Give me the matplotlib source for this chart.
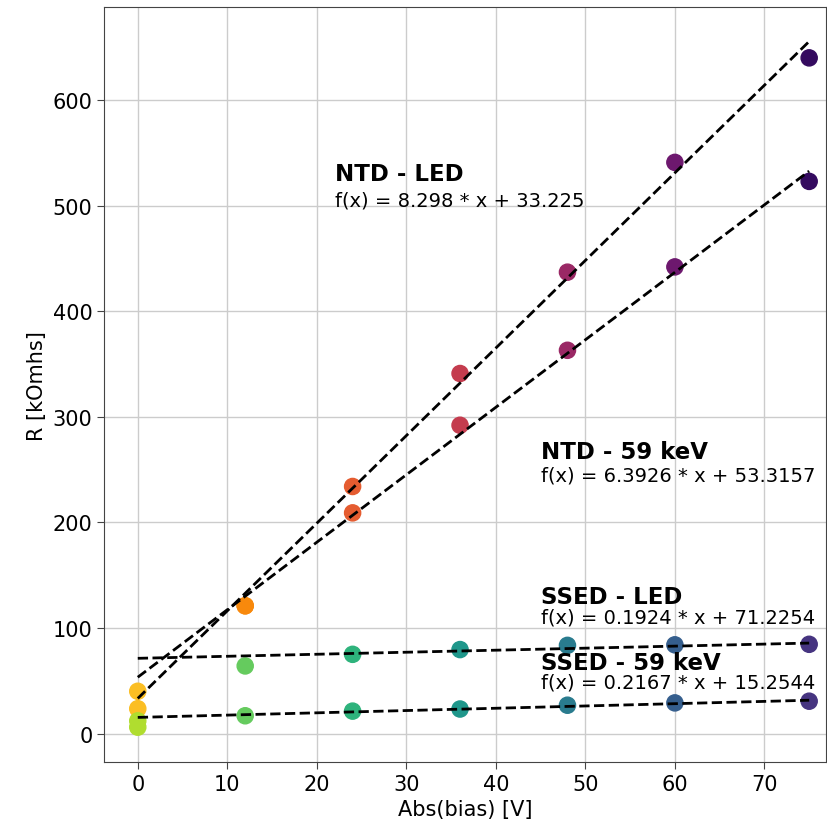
import numpy as np
import matplotlib
matplotlib.use('Agg')
import matplotlib.pyplot as plt

# bias voltages (abs) and measured resistances [kOhms]
bias = np.array([0, 12, 24, 36, 48, 60, 75])
ntd_led = np.array([40, 121, 234, 341, 437, 541, 640])
ntd_59kev = np.array([23.5, 121, 209, 292, 363, 442, 523])
ssed_led = np.array([12, 64, 75, 79.5, 83.5, 84, 84.5])
ssed_59kev = np.array([6, 16.8, 21.2, 23.2, 26.8, 29.0, 30.6])

# fit results shown on the plot
fits = {
    'NTD - LED': (8.298, 33.225, '8.298', '33.225'),
    'NTD - 59 keV': (6.3926, 53.3157, '6.3926', '53.3157'),
    'SSED - LED': (0.1924, 71.2254, '0.1924', '71.2254'),
    'SSED - 59 keV': (0.2167, 15.2544, '0.2167', '15.2544'),
}
label_pos = {
    'NTD - LED': (22, 524, 500),
    'NTD - 59 keV': (45, 261, 240),
    'SSED - LED': (45, 124, 105),
    'SSED - 59 keV': (45, 61, 44),
}

fig = plt.figure(figsize=(8.27, 8.2), dpi=100)
ax = fig.add_axes([0.126, 0.0695, 0.873, 0.9205])

frac = 1 - bias / bias.max()
ntd_colors = plt.cm.inferno(0.17 + 0.68 * frac)
ssed_colors = plt.cm.viridis(0.15 + 0.73 * frac)

xfit = np.linspace(0, 75, 2)
for name in fits:
    a, b, sa, sb = fits[name]
    ax.plot(xfit, a * xfit + b, '--', color='black', lw=2, zorder=3)

ax.scatter(bias, ntd_led, s=135, c=ntd_colors, zorder=2)
ax.scatter(bias, ntd_59kev, s=135, c=ntd_colors, zorder=2)
ax.scatter(bias, ssed_led, s=135, c=ssed_colors, zorder=2)
ax.scatter(bias, ssed_59kev, s=135, c=ssed_colors, zorder=2)

for name in fits:
    a, b, sa, sb = fits[name]
    x0, yt, yf = label_pos[name]
    ax.text(x0, yt, name, fontsize=16.5, fontweight='bold', zorder=4)
    ax.text(x0, yf, 'f(x) = ' + sa + ' * x + ' + sb, fontsize=14, zorder=4)

ax.set_xlim(-3.75, 76.9)
ax.set_ylim(-27, 688)
ax.set_xticks(range(0, 80, 10))
ax.set_yticks(range(0, 700, 100))
ax.grid(True, color='#cccccc', lw=1)
ax.set_axisbelow(True)
ax.tick_params(labelsize=15, length=5, color='#444444')
for sp in ax.spines.values():
    sp.set_color('#444444')
ax.set_xlabel('Abs(bias) [V]', fontsize=15)
ax.set_ylabel('R [kOmhs]', fontsize=15)

fig.savefig('out.png', dpi=100)
